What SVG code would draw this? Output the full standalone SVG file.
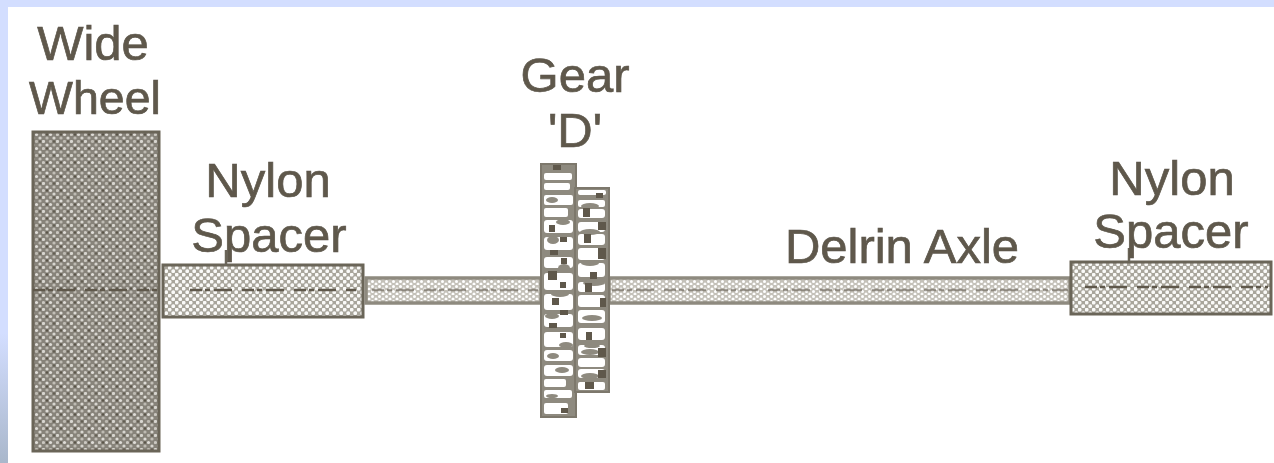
<svg xmlns="http://www.w3.org/2000/svg" width="1274" height="463" viewBox="0 0 1274 463">
<defs>
<linearGradient id="bg" x1="0" y1="0" x2="0" y2="1"><stop offset="0" stop-color="#d3deff"/><stop offset="0.72" stop-color="#d3deff"/><stop offset="1" stop-color="#a9b7cb"/></linearGradient>
<filter id="soft" x="-2%" y="-2%" width="104%" height="104%"><feGaussianBlur stdDeviation="0.55"/></filter>
<pattern id="dark" width="14" height="14" patternUnits="userSpaceOnUse">
<rect width="14" height="14" fill="#87837a"/>
<circle cx="1.5" cy="1.5" r="1.6" fill="#d8d6d0"/><circle cx="8.5" cy="1.5" r="1.6" fill="#bdbab2"/><circle cx="5" cy="5" r="1.6" fill="#dfddd8"/><circle cx="12" cy="5" r="1.6" fill="#c2bfb7"/><circle cx="1.5" cy="8.5" r="1.6" fill="#cbc8c1"/><circle cx="8.5" cy="8.5" r="1.6" fill="#dfddd8"/><circle cx="5" cy="12" r="1.6" fill="#bdbab2"/><circle cx="12" cy="12" r="1.6" fill="#d8d6d0"/>
<circle cx="5" cy="8.5" r="1.2" fill="#5a5448"/><circle cx="12" cy="1.5" r="1.2" fill="#645e52"/>
</pattern>
<pattern id="light" width="7" height="7" patternUnits="userSpaceOnUse">
<rect width="7" height="7" fill="#a8a59b"/>
<circle cx="1.7" cy="1.7" r="1.9" fill="#fafaf8"/><circle cx="5.2" cy="5.2" r="1.9" fill="#fafaf8"/>
</pattern>
<pattern id="axle" width="7" height="5" patternUnits="userSpaceOnUse">
<rect width="7" height="5" fill="#c4c1b9"/>
<circle cx="1.5" cy="1.5" r="1.5" fill="#fff"/><circle cx="5" cy="4" r="1.5" fill="#fff"/>
</pattern>
<style>
text{font-family:"Liberation Sans",Arial,sans-serif;font-size:49px;fill:#5e584c;text-anchor:middle;stroke:#5e584c;stroke-width:.7}
.box{stroke:#6b6559;stroke-width:3}
.axl{fill:url(#axle);stroke:#8e8a7f;stroke-width:3.5}
.c{fill:none;stroke:#5e584c;stroke-width:2.5;stroke-dasharray:12 3 5 4 18 10}
.g{fill:#8e8a7f;stroke:#7d786c;stroke-width:2}
.w{fill:#fff}
.d{fill:#5e584c}
.b{fill:#8e8a7f}
</style>
</defs>
<rect width="1274" height="463" fill="url(#bg)"/>
<rect x="8" y="7" width="1266" height="456" fill="#fff"/>
<g filter="url(#soft)">
<g id="wide-wheel">
<rect class="box" x="33" y="132" width="126" height="319" fill="url(#dark)"/>
<text x="93" y="60">Wide</text>
<text x="95" y="114" style="font-size:46.5px">Wheel</text>
</g>
<g id="nylon-spacer-left">
<rect class="box" x="163" y="265" width="200" height="52" fill="url(#light)"/>
<path d="M226 250V265" fill="none" stroke="#6b6559" stroke-width="2.5"/>
<text x="268" y="197">Nylon</text>
<text x="269" y="252">Spacer</text>
</g>
<g id="delrin-axle">
<rect class="axl" x="366" y="278" width="175" height="25"/>
<rect class="axl" x="609" y="278" width="461" height="25"/>
<text x="902" y="263">Delrin Axle</text>
</g>
<g id="gear-d">
<rect class="g" x="541" y="164" width="35" height="253"/>
<rect class="g" x="575" y="188" width="34" height="204"/>
<g class="w">
<rect x="544" y="173" width="28" height="7" rx="2"/><rect x="544" y="183" width="26" height="7" rx="2"/><rect x="544" y="195" width="29" height="10" rx="2"/><rect x="544" y="208" width="24" height="9" rx="2"/><rect x="544" y="220" width="29" height="13" rx="3"/><rect x="544" y="237" width="29" height="13" rx="3"/><rect x="544" y="257" width="29" height="11" rx="3"/><rect x="544" y="273" width="29" height="17" rx="3"/><rect x="544" y="294" width="29" height="16" rx="3"/><rect x="544" y="314" width="29" height="13" rx="3"/><rect x="544" y="332" width="29" height="15" rx="3"/><rect x="544" y="350" width="29" height="11" rx="3"/><rect x="544" y="365" width="29" height="11" rx="3"/><rect x="544" y="379" width="22" height="8" rx="2"/><rect x="544" y="390" width="28" height="8" rx="2"/><rect x="544" y="403" width="24" height="11" rx="2"/>
<rect x="578" y="190" width="28" height="5" rx="2"/><rect x="578" y="200" width="27" height="7" rx="2"/><rect x="578" y="209" width="27" height="9" rx="3"/><rect x="578" y="222" width="27" height="10" rx="3"/><rect x="578" y="234" width="27" height="11" rx="3"/><rect x="578" y="248" width="27" height="12" rx="3"/><rect x="578" y="263" width="27" height="14" rx="3"/><rect x="578" y="282" width="27" height="10" rx="3"/><rect x="578" y="295" width="27" height="12" rx="3"/><rect x="578" y="310" width="27" height="13" rx="3"/><rect x="578" y="328" width="27" height="12" rx="3"/><rect x="578" y="345" width="27" height="10" rx="3"/><rect x="578" y="358" width="27" height="9" rx="3"/><rect x="578" y="369" width="27" height="9" rx="3"/><rect x="578" y="382" width="27" height="8" rx="2"/>
</g>
<g class="b">
<ellipse cx="552" cy="200" rx="6" ry="3"/><ellipse cx="563" cy="222" rx="7" ry="3"/><ellipse cx="553" cy="240" rx="6" ry="4"/><ellipse cx="564" cy="268" rx="6" ry="4"/><ellipse cx="560" cy="294" rx="9" ry="3"/><ellipse cx="552" cy="316" rx="7" ry="3"/><ellipse cx="566" cy="345" rx="7" ry="3"/><ellipse cx="553" cy="356" rx="6" ry="3"/><ellipse cx="562" cy="370" rx="7" ry="3"/><ellipse cx="552" cy="396" rx="6" ry="2"/>
<ellipse cx="590" cy="206" rx="9" ry="3"/><ellipse cx="590" cy="232" rx="10" ry="3"/><ellipse cx="590" cy="263" rx="9" ry="3"/><ellipse cx="594" cy="283" rx="11" ry="3"/><ellipse cx="592" cy="318" rx="10" ry="3"/><ellipse cx="590" cy="352" rx="9" ry="3"/><ellipse cx="590" cy="376" rx="9" ry="3"/><ellipse cx="592" cy="346" rx="8" ry="2"/>
</g>
<g class="d">
<rect x="548" y="271" width="9" height="9"/><rect x="561" y="258" width="6" height="6"/><rect x="549" y="225" width="6" height="7"/><rect x="560" y="237" width="7" height="5"/><rect x="550" y="250" width="8" height="5"/><rect x="560" y="282" width="6" height="6"/><rect x="552" y="298" width="7" height="7"/><rect x="560" y="310" width="8" height="5"/><rect x="549" y="323" width="8" height="5"/><rect x="560" y="333" width="6" height="5"/><rect x="553" y="165" width="8" height="5"/><rect x="561" y="408" width="7" height="5"/>
<rect x="583" y="208" width="7" height="9"/><rect x="596" y="193" width="7" height="5"/><rect x="598" y="222" width="8" height="8"/><rect x="584" y="234" width="7" height="9"/><rect x="598" y="248" width="8" height="11"/><rect x="590" y="272" width="7" height="7"/><rect x="585" y="283" width="7" height="9"/><rect x="600" y="298" width="6" height="9"/><rect x="586" y="332" width="6" height="8"/><rect x="598" y="348" width="8" height="9"/><rect x="598" y="370" width="8" height="8"/><rect x="585" y="382" width="9" height="7"/>
</g>
<text x="575" y="92">Gear</text>
<text x="575" y="147">'D'</text>
</g>
<g id="nylon-spacer-right">
<rect class="box" x="1071" y="262" width="200" height="52" fill="url(#light)"/>
<path d="M1129 248V262" fill="none" stroke="#6b6559" stroke-width="2.5"/>
<text x="1172" y="195">Nylon</text>
<text x="1171" y="248">Spacer</text>
</g>
<g id="connectors">
<path class="c" d="M33 290H159M190 290H356"/>
<path class="c" d="M1085 287H1268"/>
<path class="c" d="M372 290H538M612 290H1068" opacity=".55"/>
</g>
</g>
</svg>
